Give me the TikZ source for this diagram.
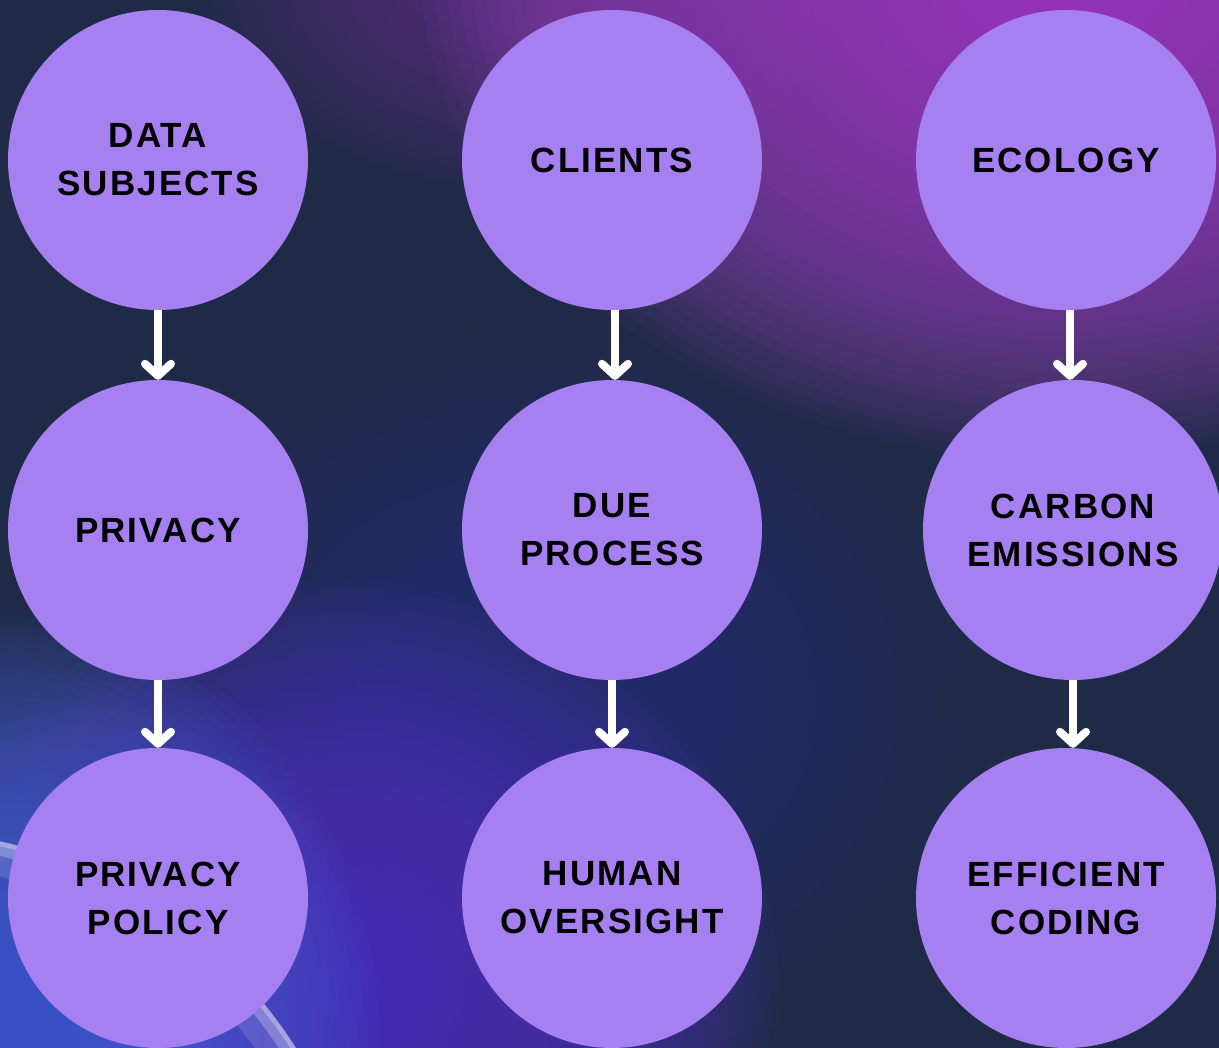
\documentclass[tikz,border=0pt]{standalone}
\usepackage{fontspec}
\setmainfont{Liberation Sans}
\newfontfamily\lblfont[LetterSpace=6]{Liberation Sans}
\usetikzlibrary{arrows.meta}
\definecolor{bg}{HTML}{1E2A46}
\definecolor{circ}{HTML}{A680F0}
\definecolor{glowpurple}{HTML}{A646CA}
\definecolor{glowblue}{HTML}{4C63D8}
\definecolor{glowindigo}{HTML}{5A42CC}
\definecolor{glowmid}{HTML}{4A3590}
\definecolor{arcc}{HTML}{D4CCF4}
% stacked translucent ellipses: colour, centre x, centre y, rx, ry, step opacity
\newcommand\softglow[6]{%
  \foreach \k in {1,...,50}{%
    \fill[#1, opacity=#6] (#2,#3) ellipse ({#4/50*\k} and {#5/50*\k});
  }%
}
\begin{document}
\begin{tikzpicture}[x=1pt,y=-1pt,
  bubble/.style={circle, fill=circ, minimum size=300pt, inner sep=0pt, align=center, text=black,
    font=\lblfont\bfseries\fontsize{35}{48}\selectfont},
  arr/.style={draw=white, line width=8pt, -{Straight Barb[length=12pt,width=26pt,round]}}]
\useasboundingbox (0,0) rectangle (1219,1048);
\begin{scope}
\clip (0,0) rectangle (1219,1048);
\fill[bg] (0,0) rectangle (1219,1048);
% glows
\softglow{glowmid}{540}{700}{460}{380}{0.025}
\softglow{glowpurple!55!bg}{520}{-30}{330}{230}{0.03}
\softglow{glowpurple}{1060}{-40}{640}{500}{0.05}
\softglow{glowindigo}{340}{1000}{440}{420}{0.045}
\softglow{glowblue}{0}{1048}{380}{440}{0.05}
% light arc
\draw[arcc, line width=34pt, opacity=0.18] (-100,1300) circle (452);
\draw[arcc, line width=14pt, opacity=0.35] (-100,1300) circle (462);
\draw[arcc, line width=5pt, opacity=0.45] (-100,1300) circle (467);
\end{scope}
% nodes
\node[bubble] (A1) at (158,160) {DATA\\SUBJECTS};
\node[bubble] (A2) at (158,530) {PRIVACY};
\node[bubble] (A3) at (158,898) {PRIVACY\\POLICY};
\node[bubble] (B1) at (612,160) {CLIENTS};
\node[bubble] (B2) at (612,530) {DUE\\PROCESS};
\node[bubble] (B3) at (612,898) {HUMAN\\OVERSIGHT};
\node[bubble] (C1) at (1066,160) {ECOLOGY};
\node[bubble] (C2) at (1073,530) {CARBON\\EMISSIONS};
\node[bubble] (C3) at (1066,898) {EFFICIENT\\CODING};
% arrows
\draw[arr] (A1.south) -- (A2.north);
\draw[arr] (A2.south) -- (A3.north);
\draw[arr] ([xshift=3pt]B1.south) -- ([xshift=3pt]B1.south |- B2.north);
\draw[arr] (B2.south) -- (B3.north);
\draw[arr] ([xshift=4pt]C1.south) -- ([xshift=4pt]C1.south |- C2.north);
\draw[arr] (C2.south) -- (C2.south |- C3.north);
\end{tikzpicture}
\end{document}
